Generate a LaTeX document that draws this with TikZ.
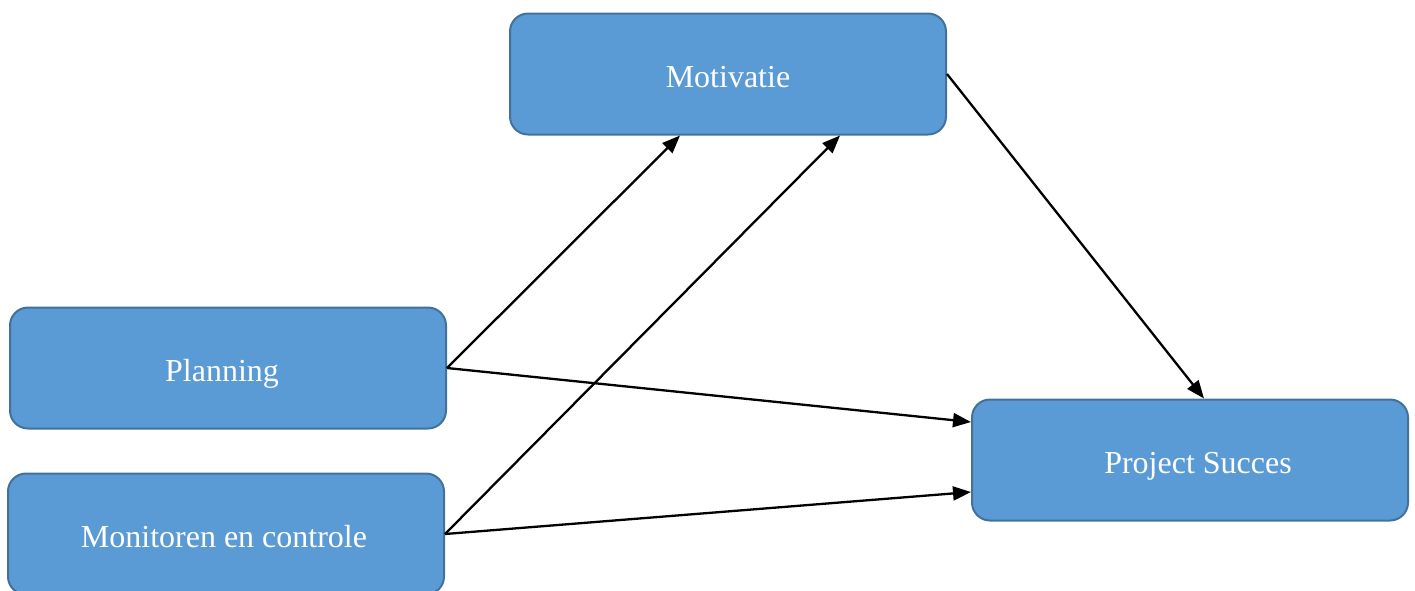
\documentclass[tikz,border=0pt]{standalone}
\usepackage{fontspec}
\setmainfont{Liberation Serif}
\usetikzlibrary{calc,arrows.meta}
\definecolor{boxfill}{HTML}{5B9BD5}
\definecolor{boxline}{HTML}{41719C}
% labels: baseline set 13pt below the middle of the box, optional sideways shift
\newcommand\boxtext[2][0pt]{\hspace*{#1}\raisebox{-13pt}[0pt][0pt]{#2}}
\begin{document}
\begin{tikzpicture}[x=1pt,y=-1pt,
  factor/.style={draw=boxline, fill=boxfill, line width=2pt, rounded corners=18pt,
    minimum width=436pt, minimum height=121pt, inner sep=0pt,
    text=white, font=\fontsize{32}{37}\selectfont},
  link/.style={draw=black, line width=2.3pt, -{Triangle[length=18pt,width=14pt]}}]
  \useasboundingbox (0,0) rectangle (1415,590);
  \node[factor] (mot)  at (728,74)   {\boxtext{Motivatie}};
  \node[factor] (plan) at (228,368)  {\boxtext[-12pt]{Planning}};
  \node[factor] (mon)  at (226,534)  {\boxtext[-4pt]{Monitoren en controle}};
  \node[factor] (proj) at (1190,460) {\boxtext[16pt]{Project Succes}};
  \draw[link] (plan.east) -- ($(mot.south)+(-48,0)$);
  \draw[link] (mon.east) -- ($(mot.south)+(112,0)$);
  \draw[link] (plan.east) -- ($(proj.west)+(0,-38)$);
  \draw[link] (mon.east) -- ($(proj.west)+(0,32)$);
  \draw[link] (mot.east) -- ($(proj.north)+(14,0)$);
\end{tikzpicture}
\end{document}
